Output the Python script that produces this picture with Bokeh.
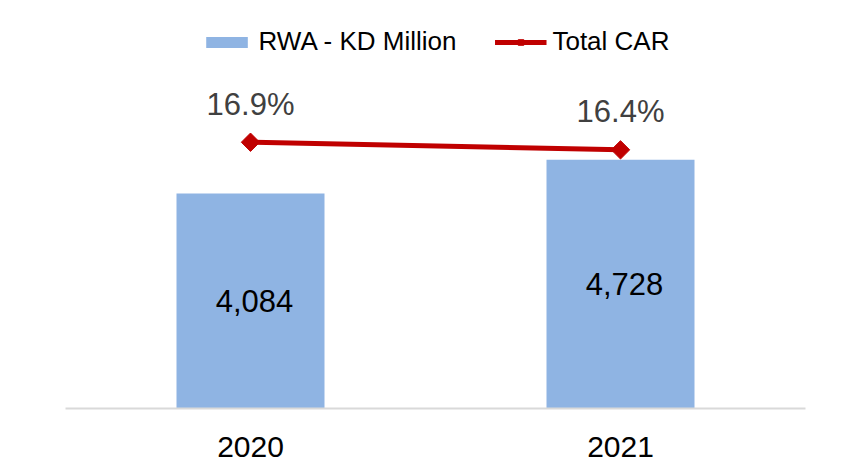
import numpy as np
from bokeh.plotting import figure
from bokeh.models import ColumnDataSource, Range1d, FactorRange, Legend
from bokeh.core.properties import value
from bokeh.embed import file_html
from bokeh.resources import INLINE

years = ["2020", "2021"]
rwa = [4084, 4728]
car = [16.9, 16.4]
rwa_labels = [f"{v:,}" for v in rwa]
car_labels = [f"{v:.1f}%" for v in car]

FONT = "Liberation Sans"

src = ColumnDataSource(dict(x=years, rwa=rwa, half=[v / 2 for v in rwa], rwa_lab=rwa_labels,
                            car=car, car_lab=car_labels))

p = figure(width=844, height=472, x_range=FactorRange(factors=years, range_padding=0),
           y_range=Range1d(0, 7372), output_backend="svg", toolbar_location=None,
           min_border_left=65, min_border_right=39, min_border_top=20, min_border_bottom=64)
p.extra_y_ranges = {"car": Range1d(-0.62, 24.91)}
p.outline_line_color = None
p.background_fill_color = "white"
p.border_fill_color = "white"
p.xgrid.grid_line_color = None
p.ygrid.grid_line_color = None
p.yaxis.visible = False

p.xaxis.axis_line_color = "#d9d9d9"
p.xaxis.axis_line_width = 2
p.xaxis.major_tick_line_color = None
p.xaxis.minor_tick_line_color = None
p.xaxis.major_label_text_font = FONT
p.xaxis.major_label_text_font_size = "30px"
p.xaxis.major_label_text_color = "black"
p.xaxis.major_label_standoff = 22

bars = p.vbar(x="x", top="rwa", width=0.4, source=src, fill_color="#8FB4E3", line_color=None)
ln = p.line(x="x", y="car", source=src, line_color="#C00000", line_width=5, y_range_name="car")
mk = p.scatter(x="x", y="car", source=src, marker="square", angle=np.pi / 4, size=13,
               fill_color="#C00000", line_color="#C00000", y_range_name="car")

p.text(x="x", y="half", text="rwa_lab", source=src, text_font=value(FONT), text_font_size="31px",
       text_color="black", text_align="center", text_baseline="middle", x_offset=4)
p.text(x="x", y="car", text="car_lab", source=src, text_font=value(FONT), text_font_size="31px",
       text_color="#404040", text_align="center", text_baseline="middle", y_offset=-38,
       y_range_name="car")

legend = Legend(items=[("RWA - KD Million", [bars]), ("Total CAR", [ln, mk])],
                orientation="horizontal", location="top_center",
                glyph_width=52, glyph_height=14, label_standoff=6, spacing=38,
                padding=0, margin=6, border_line_color=None, background_fill_alpha=0,
                label_text_font=FONT, label_text_font_size="26px", label_text_color="black")
p.add_layout(legend, "center")

open("out.html", "w").write(file_html(p, INLINE))
